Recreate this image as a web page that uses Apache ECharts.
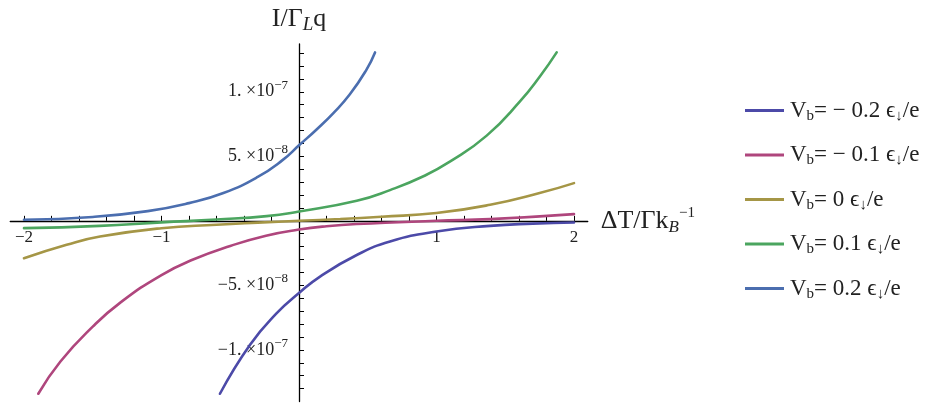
<!DOCTYPE html>
<html>
<head>
<meta charset="utf-8">
<title>I / ΓLq vs ΔT</title>
<script src="https://cdn.jsdelivr.net/npm/echarts@6/dist/echarts.min.js"></script>
<style>
  html, body { margin: 0; padding: 0; background: #fff; }
  #chart { width: 944px; height: 403px; }
</style>
</head>
<body>
<div id="chart"></div>
<script>
// current values are in units of 1e-8 (axis labels add the exponent)
const xM02 = [-0.575, -0.356, -0.162, 0, 0.153, 0.42, 0.662, 1, 1.39, 1.7, 2];
const yM02 = [-13.4, -9.6, -7.16, -5.6, -4.32, -2.65, -1.6, -0.83, -0.39, -0.22, -0.13];

const xM01 = [-1.896, -1.735, -1.5, -1.295, -1.0, -0.77, -0.5, -0.24, 0, 0.2, 0.42, 1, 1.39, 2];
const yM01 = [-13.4, -10.9, -8.2, -6.3, -4.2, -3.0, -1.95, -1.15, -0.68, -0.42, -0.25, 0, 0.13, 0.52];

const xZero = [-2, -1.69, -1.447, -1.0, -0.6, -0.3, 0, 0.3, 0.6, 1.0, 1.39, 1.75, 2];
const yZero = [-2.9, -1.86, -1.22, -0.57, -0.3, -0.14, 0, 0.14, 0.32, 0.6, 1.24, 2.15, 2.92];

const xP01 = [-2, -1.45, -1.0, -0.6, -0.235, 0, 0.42, 0.662, 0.905, 1.1, 1.365, 1.607, 1.753, 1.874];
const yP01 = [-0.57, -0.39, -0.12, 0.1, 0.36, 0.72, 1.55, 2.38, 3.45, 4.6, 6.6, 9.25, 11.2, 13.05];

const xP02 = [-2, -1.5, -1.1, -0.8, -0.55, -0.3, -0.12, 0, 0.13, 0.25, 0.37, 0.49, 0.553];
const yP02 = [0.08, 0.3, 0.75, 1.37, 2.15, 3.4, 4.7, 5.85, 7.1, 8.35, 9.8, 11.7, 13.05];

const seriesNames = ['Vb=-0.2', 'Vb=-0.1', 'Vb=0', 'Vb=0.1', 'Vb=0.2'];
const seriesColors = ['#4c4aa8', '#af467d', '#a59646', '#4ba55f', '#4b6eaf'];
const legendValues = ['− 0.2', '− 0.1', '0', '0.1', '0.2'];

const xTicks = [-2, -1.8, -1.6, -1.4, -1.2, -1, -0.8, -0.6, -0.4, -0.2, 0,
                0.2, 0.4, 0.6, 0.8, 1, 1.2, 1.4, 1.6, 1.8, 2];
const xLabels = [-2, -1, 1, 2];
const yTicks = [-13, -12, -11, -10, -9, -8, -7, -6, -5, -4, -3, -2, -1,
                1, 2, 3, 4, 5, 6, 7, 8, 9, 10, 11, 12, 13];
const yLabels = [-10, -5, 5, 10];
const yLabelText = {
  '-10': ['−1. ×10', '−7'],
  '-5': ['−5. ×10', '−8'],
  '5': ['5. ×10', '−8'],
  '10': ['1. ×10', '−7']
};

const xMin = -2.1, xMax = 2.1, yMin = -14, yMax = 13.7;
const gridLeft = 10.25, gridWidth = 577.5, gridTop = 44, gridHeight = 357.5;

const serif = 'Liberation Serif';
const txt = '#222';

function pairs(xs, ys) {
  return xs.map((x, i) => [x, ys[i]]);
}
const allX = [xM02, xM01, xZero, xP01, xP02];
const allY = [yM02, yM01, yZero, yP01, yP02];

// axes cross at the origin: shift them in from the grid edges
const yAxisShift = -(0 - xMin) / (xMax - xMin) * gridWidth;
const xAxisShift = -(0 - yMin) / (yMax - yMin) * gridHeight;

const chart = echarts.init(document.getElementById('chart'));
chart.setOption({
  animation: false,
  grid: { left: gridLeft, width: gridWidth, top: gridTop, height: gridHeight, outerBoundsMode: 'none' },
  legend: {
    orient: 'vertical',
    left: 740,
    top: 94,
    icon: 'rect',
    itemWidth: 39,
    itemHeight: 3,
    itemGap: 20,
    data: seriesNames,
    formatter: name => {
      const v = legendValues[seriesNames.indexOf(name)];
      return '{v|V}{sub|b}{v|= ' + v + ' ϵ}{sub|↓}{v|/e}';
    },
    textStyle: {
      padding: [0, 0, 0, 1],
      rich: {
        v: { fontFamily: serif, fontSize: 23, color: txt, lineHeight: 26 },
        sub: { fontFamily: serif, fontSize: 15, color: txt, lineHeight: 15, verticalAlign: 'bottom' }
      }
    }
  },
  xAxis: {
    type: 'value',
    min: xMin,
    max: xMax,
    position: 'bottom',
    offset: xAxisShift,
    splitLine: { show: false },
    axisLine: { onZero: false, lineStyle: { color: '#000', width: 1.3 } },
    axisTick: { inside: true, length: 5, customValues: xTicks, lineStyle: { color: '#000' } },
    axisLabel: {
      customValues: xLabels,
      margin: 8,
      fontFamily: serif, fontSize: 17, color: txt,
      formatter: v => v < 0 ? '−' + Math.abs(v) : String(v)
    },
    name: '{n|ΔT/Γk}{i|B}{s|−1}',
    nameLocation: 'end',
    nameGap: 13,
    nameTextStyle: {
      rich: {
        n: { fontFamily: serif, fontSize: 26, color: txt, lineHeight: 30 },
        i: { fontFamily: serif, fontStyle: 'italic', fontSize: 17, color: txt, lineHeight: 17, verticalAlign: 'bottom' },
        s: { fontFamily: serif, fontSize: 15, color: txt, lineHeight: 15, verticalAlign: 'top' }
      }
    }
  },
  yAxis: {
    type: 'value',
    min: yMin,
    max: yMax,
    position: 'left',
    offset: yAxisShift,
    splitLine: { show: false },
    axisLine: { onZero: false, lineStyle: { color: '#000', width: 1.3 } },
    axisTick: { inside: true, length: 5, customValues: yTicks, lineStyle: { color: '#000' } },
    axisLabel: {
      customValues: yLabels,
      margin: 11,
      formatter: v => {
        const t = yLabelText[String(v)];
        return t ? '{m|' + t[0] + '}{e|' + t[1] + '}' : '';
      },
      rich: {
        m: { fontFamily: serif, fontSize: 18, color: txt, lineHeight: 26 },
        e: { fontFamily: serif, fontSize: 13, color: txt, lineHeight: 13, verticalAlign: 'top' }
      }
    },
    name: '{n|I/Γ}{i|L}{n|q}',
    nameLocation: 'end',
    nameGap: 10,
    nameTextStyle: {
      rich: {
        n: { fontFamily: serif, fontSize: 26, color: txt, lineHeight: 30 },
        i: { fontFamily: serif, fontStyle: 'italic', fontSize: 19, color: txt, lineHeight: 19, verticalAlign: 'bottom' }
      }
    }
  },
  series: seriesNames.map((name, k) => ({
    name: name,
    type: 'line',
    data: pairs(allX[k], allY[k]),
    smooth: 0.5,
    showSymbol: false,
    clip: true,
    color: seriesColors[k],
    lineStyle: { width: 2.6, color: seriesColors[k], cap: 'round' }
  }))
});
</script>
</body>
</html>
